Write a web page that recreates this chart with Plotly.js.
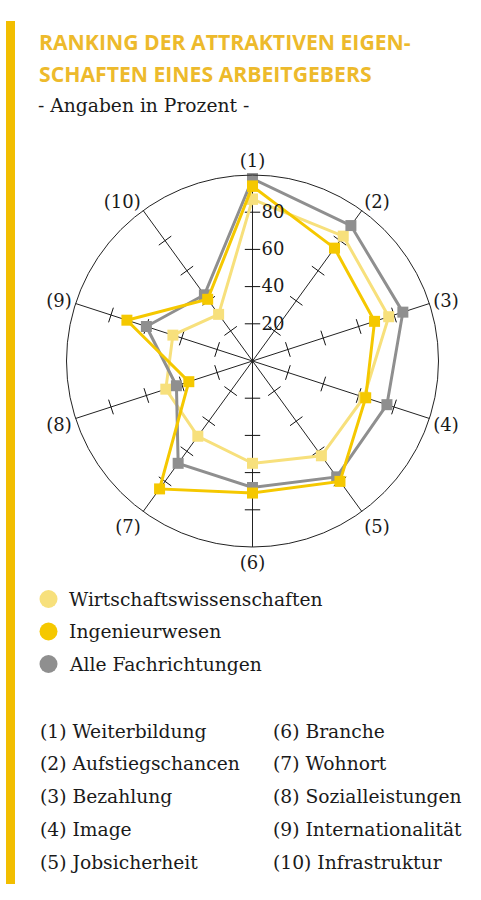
<!DOCTYPE html>
<html>
<head>
<meta charset="utf-8">
<script src="https://cdn.plot.ly/plotly-3.0.1.min.js"></script>
<style>
html,body{margin:0;padding:0;background:#fff;}
#chart{width:481px;height:900px;}
</style>
</head>
<body>
<div id="chart"></div>
<script>
// ---- data ----
var categories = ['(1)','(2)','(3)','(4)','(5)','(6)','(7)','(8)','(9)','(10)'];
var categoryNames = ['Weiterbildung','Aufstiegschancen','Bezahlung','Image','Jobsicherheit',
                     'Branche','Wohnort','Sozialleistungen','Internationalität','Infrastruktur'];
var seriesNames = ['Wirtschaftswissenschaften','Ingenieurwesen','Alle Fachrichtungen'];
var wiwi = [87, 83, 77, 63, 63, 55, 50, 49, 45, 31];
var ing  = [94, 75, 69, 64, 80, 71, 85, 36, 71, 41];
var alle = [98, 90, 85, 76, 77, 68, 68, 43, 60, 44];
var radialTicks = [20, 40, 60, 80];
var titleLines = ['RANKING DER ATTRAKTIVEN EIGEN-','SCHAFTEN EINES ARBEITGEBERS'];
var subtitle = '- Angaben in Prozent -';

// ---- styles ----
var colors = {wiwi:'#F7E07C', ing:'#F5C800', alle:'#8F8F8F'};
var serif = 'DejaVu Serif, Liberation Serif, serif';
var TXT = 18.7;
var W = 481, H = 900;
function px(x){return x/W;}
function py(y){return 1 - y/H;}

function closed(a){return a.concat([a[0]]);}
var thetaClosed = closed(categories);

function seriesTrace(vals, color, name){
  return {
    type:'scatterpolar', mode:'lines+markers', name:name,
    r: closed(vals), theta: thetaClosed,
    line:{color:color, width:3},
    marker:{symbol:'square', size:11, color:color},
    showlegend:false, hoverinfo:'skip', cliponaxis:false
  };
}

// tick marks on every spoke
var tr=[], tt=[], ta=[];
categories.forEach(function(c,i){
  radialTicks.forEach(function(v){ tr.push(v); tt.push(c); ta.push(36*i); });
});
var tickTrace = {
  type:'scatterpolar', mode:'markers', r:tr, theta:tt,
  marker:{symbol:'line-ew', size:11, angle:ta, line:{color:'#111', width:1}},
  showlegend:false, hoverinfo:'skip'
};

var data = [
  tickTrace,
  seriesTrace(wiwi, colors.wiwi, seriesNames[0]),
  seriesTrace(alle, colors.alle, seriesNames[2]),
  seriesTrace(ing, colors.ing, seriesNames[1])
];

var annotations = [];
var shapes = [];
// left accent bar
shapes.push({type:'line', xref:'paper', yref:'paper', x0:px(10.5), x1:px(10.5), y0:py(21), y1:py(884),
  line:{color:'#F2BE00', width:9}});
// title
titleLines.forEach(function(t,i){
  annotations.push({text:'<b>'+t+'</b>', xref:'paper', yref:'paper', x:px(37), y:py(42+31.5*i),
    xanchor:'left', yanchor:'middle', showarrow:false,
    font:{family:'Open Sans, sans-serif', size:21.2, color:'#EDBA2C'}});
});
annotations.push({text:subtitle, xref:'paper', yref:'paper', x:px(36), y:py(106),
  xanchor:'left', yanchor:'middle', showarrow:false,
  font:{family:serif, size:TXT, color:'#1a1a1a'}});
// legend
var legendColors = [colors.wiwi, colors.ing, colors.alle];
seriesNames.forEach(function(n,i){
  var yc = 599 + 32.5*i;
  shapes.push({type:'circle', xref:'paper', yref:'paper', x0:px(39.5), x1:px(57.5), y0:py(yc+9), y1:py(yc-9),
    fillcolor:legendColors[i], line:{width:0}});
  annotations.push({text:n, xref:'paper', yref:'paper', x:px(67), y:py(yc),
    xanchor:'left', yanchor:'middle', showarrow:false,
    font:{family:serif, size:TXT, color:'#1a1a1a'}});
});
// category list
categoryNames.forEach(function(n,i){
  var col = i < 5 ? 0 : 1;
  var row = i % 5;
  annotations.push({text:categories[i]+' '+n, xref:'paper', yref:'paper',
    x:px(col===0 ? 38 : 271), y:py(731 + 32.8*row),
    xanchor:'left', yanchor:'middle', showarrow:false,
    font:{family:serif, size:TXT, color:'#1a1a1a'}});
});

var layout = {
  width:W, height:H, margin:{l:0,r:0,t:0,b:0},
  paper_bgcolor:'#fff', plot_bgcolor:'#fff',
  showlegend:false,
  font:{family:serif, color:'#1a1a1a'},
  polar:{
    domain:{x:[px(66.5), px(438.5)], y:[py(547), py(175)]},
    bgcolor:'rgba(0,0,0,0)',
    radialaxis:{
      range:[0,100], angle:90, tickvals:radialTicks, ticktext:radialTicks.map(String),
      showline:false, showgrid:false, ticks:'outside', ticklen:5, tickcolor:'rgba(0,0,0,0)',
      side:'clockwise',
      tickfont:{family:serif, size:18, color:'#1a1a1a'}, tickangle:90
    },
    angularaxis:{
      type:'category', categoryarray:categories, direction:'clockwise', rotation:90,
      showline:true, linecolor:'#222', linewidth:1,
      showgrid:true, gridcolor:'#222', gridwidth:1,
      ticks:'', tickfont:{family:serif, size:18, color:'#1a1a1a'}
    }
  },
  shapes:shapes,
  annotations:annotations
};

Plotly.newPlot('chart', data, layout, {staticPlot:true, displayModeBar:false});
</script>
</body>
</html>
